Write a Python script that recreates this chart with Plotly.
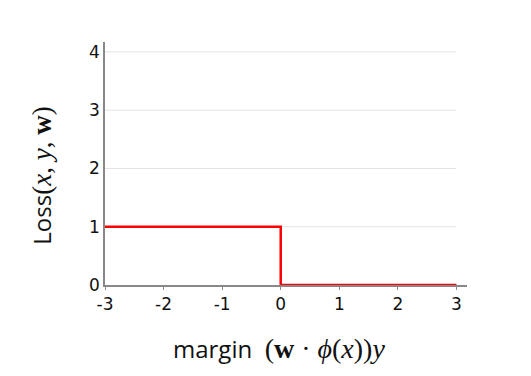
import plotly.graph_objects as go

margin_x = [-3, 0, 0, 3]
loss_y = [1, 1, 0, 0]
x_ticks = [-3, -2, -1, 0, 1, 2, 3]
x_tick_labels = ["-3", "-2", "-1", "0", "1", "2", "3"]
y_ticks = [0, 1, 2, 3, 4]
y_tick_labels = ["0", "1", "2", "3", "4"]

SERIF = "Liberation Serif"
SANS = "Open Sans"
TICKFONT = "DejaVu Sans"

fig = go.Figure()
fig.add_trace(go.Scatter(x=margin_x, y=loss_y, mode="lines",
                         line=dict(color="#ff0000", width=2.5), showlegend=False))

for yv in y_ticks[1:]:
    fig.add_shape(type="line", xref="x", yref="y", x0=-3, x1=3, y0=yv, y1=yv,
                  line=dict(color="#e3e3e3", width=1), layer="below")

ylab = ("Loss<span style='font-family:%s;font-size:27px'>(<i>x</i>, <i>y</i>, <b>w</b>)</span>" % SERIF)
xlab = ("margin&nbsp;&nbsp;<span style='font-family:%s;font-size:28px'>(<b>w</b> · <i>ϕ</i>(<i>x</i>))<i>y</i></span>" % SERIF)

fig.add_annotation(text=xlab, xref="paper", yref="paper", x=0.48, y=-0.262,
                   xanchor="center", yanchor="middle", showarrow=False,
                   font=dict(size=24, family=SANS, color="#111"))
fig.add_annotation(text=ylab, xref="paper", yref="paper", x=-0.174, y=0.45,
                   xanchor="center", yanchor="middle", showarrow=False, textangle=-90,
                   font=dict(size=24, family=SANS, color="#111"))

fig.update_layout(
    width=531, height=376,
    margin=dict(l=97, r=72, t=34, b=99),
    paper_bgcolor="white", plot_bgcolor="white",
    font=dict(family=TICKFONT, color="#222"),
    xaxis=dict(range=[-3, 3.18], tickvals=x_ticks, ticktext=x_tick_labels,
               showgrid=False, zeroline=False, automargin=False,
               showline=True, linecolor="#888", linewidth=1.5,
               ticks="outside", ticklen=3, tickcolor="#888",
               tickfont=dict(size=17, color="#111")),
    yaxis=dict(range=[0, 4.17], tickvals=y_ticks, ticktext=y_tick_labels,
               showgrid=False, zeroline=False, automargin=False,
               showline=True, linecolor="#888", linewidth=1.5,
               ticks="", ticklen=0,
               tickfont=dict(size=17, color="#111")),
)

fig.write_html("out.html")
